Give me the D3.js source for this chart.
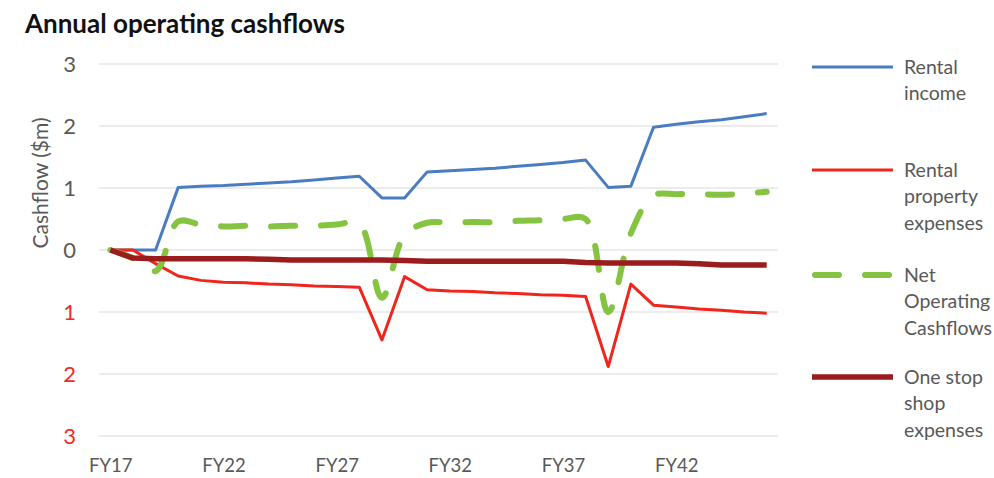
<!DOCTYPE html>
<html>
<head>
<meta charset="utf-8">
<script src="https://cdn.jsdelivr.net/npm/d3@7"></script>
<style>
  html, body { margin: 0; padding: 0; background: #ffffff; }
  svg { display: block; font-family: Lato, "Open Sans", sans-serif; }
</style>
</head>
<body>
<svg id="chart" width="994" height="478"></svg>
<script>
// Financial years on the category axis
const years = ["FY17","FY18","FY19","FY20","FY21","FY22","FY23","FY24","FY25","FY26",
               "FY27","FY28","FY29","FY30","FY31","FY32","FY33","FY34","FY35","FY36",
               "FY37","FY38","FY39","FY40","FY41","FY42","FY43","FY44","FY45","FY46"];

// Cashflows in $m per year
const rentalIncome = [0, 0, 0, 1.01, 1.03, 1.04, 1.06, 1.08, 1.10, 1.13,
                      1.16, 1.19, 0.84, 0.84, 1.26, 1.28, 1.30, 1.32, 1.35, 1.38,
                      1.41, 1.45, 1.01, 1.03, 1.98, 2.03, 2.07, 2.10, 2.15, 2.20];
const rentalExpenses = [0, 0, -0.22, -0.42, -0.49, -0.52, -0.53, -0.55, -0.56, -0.58,
                        -0.59, -0.60, -1.45, -0.43, -0.64, -0.66, -0.67, -0.69, -0.70, -0.72,
                        -0.73, -0.75, -1.88, -0.55, -0.89, -0.92, -0.95, -0.97, -1.00, -1.02];
const netOperating = [0, -0.13, -0.34, 0.46, 0.41, 0.38, 0.39, 0.38, 0.39, 0.39,
                      0.41, 0.43, -0.77, 0.24, 0.44, 0.44, 0.45, 0.45, 0.47, 0.48,
                      0.50, 0.50, -1.00, 0.27, 0.88, 0.90, 0.90, 0.89, 0.91, 0.94];
const oneStopShop = [0, -0.13, -0.14, -0.14, -0.14, -0.14, -0.14, -0.15, -0.16, -0.16,
                     -0.16, -0.16, -0.16, -0.17, -0.18, -0.18, -0.18, -0.18, -0.18, -0.18,
                     -0.18, -0.20, -0.21, -0.21, -0.21, -0.21, -0.22, -0.24, -0.24, -0.24];

const xTickLabels = ["FY17","FY22","FY27","FY32","FY37","FY42"];
const yTicks = [-3, -2, -1, 0, 1, 2, 3];

const seriesNames = [["Rental", "income"], ["Rental", "property", "expenses"],
                     ["Net", "Operating", "Cashflows"], ["One stop", "shop", "expenses"]];

const series = [
  { lines: seriesNames[0], values: rentalIncome,   color: "#4a7cc2", width: 3,   dash: null,    curve: d3.curveLinear },
  { lines: seriesNames[1], values: rentalExpenses, color: "#f0261c", width: 3,   dash: null,    curve: d3.curveLinear },
  { lines: seriesNames[2], values: netOperating,   color: "#85c441", width: 6,   dash: "24,26", curve: d3.curveCatmullRom.alpha(0.5) },
  { lines: seriesNames[3], values: oneStopShop,    color: "#9b1c1c", width: 5.5, dash: null,    curve: d3.curveLinear }
];

const svg = d3.select("#chart");
const plot = { left: 99, right: 778, top: 64, bottom: 436 };

const x = d3.scalePoint().domain(years).range([plot.left, plot.right]).padding(0.5);
const y = d3.scaleLinear().domain([-3, 3]).range([plot.bottom, plot.top]);

// Title
svg.append("text")
  .attr("x", 25).attr("y", 33)
  .attr("font-size", 26).attr("font-weight", 700).attr("fill", "#111")
  .text("Annual operating cashflows");

// Horizontal gridlines
svg.append("g").selectAll("line").data(yTicks).join("line")
  .attr("x1", plot.left).attr("x2", plot.right)
  .attr("y1", d => y(d)).attr("y2", d => y(d))
  .attr("stroke", "#d9d9d9").attr("stroke-width", 1);

// Y axis labels (negative values shown in red without sign)
const yAxis = svg.append("g")
  .attr("transform", `translate(${plot.left},0)`)
  .call(d3.axisLeft(y).tickValues(yTicks).tickSize(0).tickPadding(23)
        .tickFormat(d => String(Math.abs(d))));
yAxis.select(".domain").remove();
yAxis.selectAll("text")
  .attr("font-size", 22).attr("font-family", "Lato, sans-serif")
  .attr("fill", d => d < 0 ? "#ee2b2b" : "#595959");

// X axis labels
const xAxis = svg.append("g")
  .attr("transform", `translate(0,${plot.bottom})`)
  .call(d3.axisBottom(x).tickValues(xTickLabels).tickSize(0).tickPadding(23));
xAxis.select(".domain").remove();
xAxis.selectAll("text")
  .attr("font-size", 18.5).attr("font-family", "Lato, sans-serif").attr("fill", "#595959");

// Y axis title
svg.append("text")
  .attr("transform", "translate(39,183) rotate(-90)")
  .attr("text-anchor", "middle").attr("dominant-baseline", "central")
  .attr("font-size", 21).attr("fill", "#595959")
  .text("Cashflow ($m)");

// Series lines
const line = d3.line().x((d, i) => x(years[i])).y(d => y(d));
svg.append("g").selectAll("path").data(series).join("path")
  .attr("d", s => line.curve(s.curve)(s.values))
  .attr("fill", "none")
  .attr("stroke", s => s.color)
  .attr("stroke-width", s => s.width)
  .attr("stroke-linejoin", "round")
  .attr("stroke-linecap", s => s.dash ? "round" : "butt")
  .attr("stroke-dasharray", s => s.dash);

// Legend
const legendY = [67, 170, 275, 377];
const legend = svg.append("g").selectAll("g").data(series).join("g")
  .attr("transform", (s, i) => `translate(0,${legendY[i]})`);
legend.append("line")
  .attr("x1", s => s.dash ? 815 : 812).attr("x2", 893)
  .attr("stroke", s => s.color)
  .attr("stroke-width", s => s.width)
  .attr("stroke-linecap", s => s.dash ? "round" : "butt")
  .attr("stroke-dasharray", s => s.dash);
legend.append("text")
  .attr("x", 904).attr("font-size", 19.5).attr("fill", "#595959")
  .selectAll("tspan").data(s => s.lines).join("tspan")
  .attr("x", 904).attr("y", (d, i) => i * 26.5).attr("dy", "0.35em")
  .text(d => d);
</script>
</body>
</html>
